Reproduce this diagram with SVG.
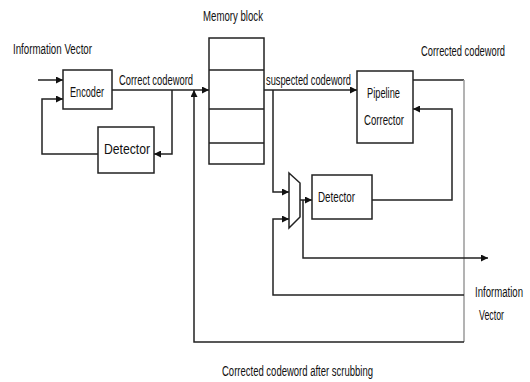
<svg xmlns="http://www.w3.org/2000/svg" width="530" height="382" viewBox="0 0 530 382">
  <defs>
    <marker id="arrow" viewBox="0 0 10 10" refX="10" refY="5" markerWidth="7" markerHeight="7" markerUnits="userSpaceOnUse" orient="auto">
      <path d="M0,0 L10,5 L0,10 Z" fill="#111"/>
    </marker>
    <style>
      .box { fill: #fff; stroke: #222; stroke-width: 1.5; }
      .wire { fill: none; stroke: #222; stroke-width: 1.5; }
      .grey { fill: none; stroke: #9a9a9a; stroke-width: 1.5; }
      .arr { marker-end: url(#arrow); }
      text { font-family: "Liberation Sans", Arial, sans-serif; font-size: 15.5px; fill: #111; }
    </style>
  </defs>

  <rect width="530" height="382" fill="#fff"/>

  <!-- free labels (condensed horizontally) -->
  <text transform="translate(13,54) scale(0.6,1)" textLength="131.7" lengthAdjust="spacingAndGlyphs">Information Vector</text>
  <text transform="translate(203,21) scale(0.6,1)" textLength="100" lengthAdjust="spacingAndGlyphs">Memory block</text>
  <text transform="translate(421,56) scale(0.6,1)" textLength="140" lengthAdjust="spacingAndGlyphs">Corrected codeword</text>
  <text transform="translate(119,85) scale(0.6,1)" textLength="123.3" lengthAdjust="spacingAndGlyphs">Correct codeword</text>
  <text transform="translate(266,85) scale(0.6,1)" textLength="141.7" lengthAdjust="spacingAndGlyphs">suspected codeword</text>
  <text transform="translate(475,297) scale(0.6,1)" textLength="80" lengthAdjust="spacingAndGlyphs">Information</text>
  <text transform="translate(479,320) scale(0.6,1)" textLength="41.7" lengthAdjust="spacingAndGlyphs">Vector</text>
  <text transform="translate(222,376) scale(0.6,1)" textLength="251.7" lengthAdjust="spacingAndGlyphs">Corrected codeword after scrubbing</text>

  <!-- connectors -->
  <g id="connectors">
    <path class="wire arr" d="M38,80 H63"/>
    <path class="wire arr" d="M98,154 H42 V99 H63"/>
    <path class="wire arr" d="M112,90 H209"/>
    <path class="wire arr" d="M172,90 V154 H154"/>
    <path class="wire" d="M413,80 H464"/>
    <path class="grey" d="M464,80 V342"/>
    <path class="wire arr" d="M464,342 H194 V90"/>
    <path class="wire arr" d="M264,90 H357"/>
    <path class="wire arr" d="M273,90 V192 H289"/>
    <path class="wire arr" d="M464,295 H273 V219 H289"/>
    <path class="wire arr" d="M300,200 H312"/>
    <path class="wire arr" d="M303,200 V258 H488"/>
    <path class="wire arr" d="M372,200 H452 V109 H413"/>
  </g>

  <!-- nodes -->
  <g id="encoder">
    <rect class="box" x="63" y="70" width="49" height="39"/>
    <text transform="translate(70,97) scale(0.6,1)" textLength="56.7" lengthAdjust="spacingAndGlyphs">Encoder</text>
  </g>
  <g id="detector-1">
    <rect class="box" x="98" y="127" width="56" height="46"/>
    <text transform="translate(104,154) scale(0.6,1)" textLength="76.7" lengthAdjust="spacingAndGlyphs">Detector</text>
  </g>
  <g id="memory-block">
    <rect class="box" x="209" y="38" width="55" height="126" stroke="#555"/>
    <path class="wire" d="M209,70 H264 M209,109 H264 M209,143 H264"/>
  </g>
  <g id="pipeline-corrector">
    <rect class="box" x="357" y="71" width="56" height="72"/>
    <text transform="translate(367,98) scale(0.6,1)" textLength="55" lengthAdjust="spacingAndGlyphs">Pipeline</text>
    <text transform="translate(364,125) scale(0.6,1)" textLength="66.7" lengthAdjust="spacingAndGlyphs">Corrector</text>
  </g>
  <g id="mux">
    <polygon class="box" points="289,173 300,183 300,217 289,228"/>
  </g>
  <g id="detector-2">
    <rect class="box" x="312" y="175" width="60" height="44"/>
    <text transform="translate(318,202) scale(0.6,1)" textLength="61.7" lengthAdjust="spacingAndGlyphs">Detector</text>
  </g>
</svg>
